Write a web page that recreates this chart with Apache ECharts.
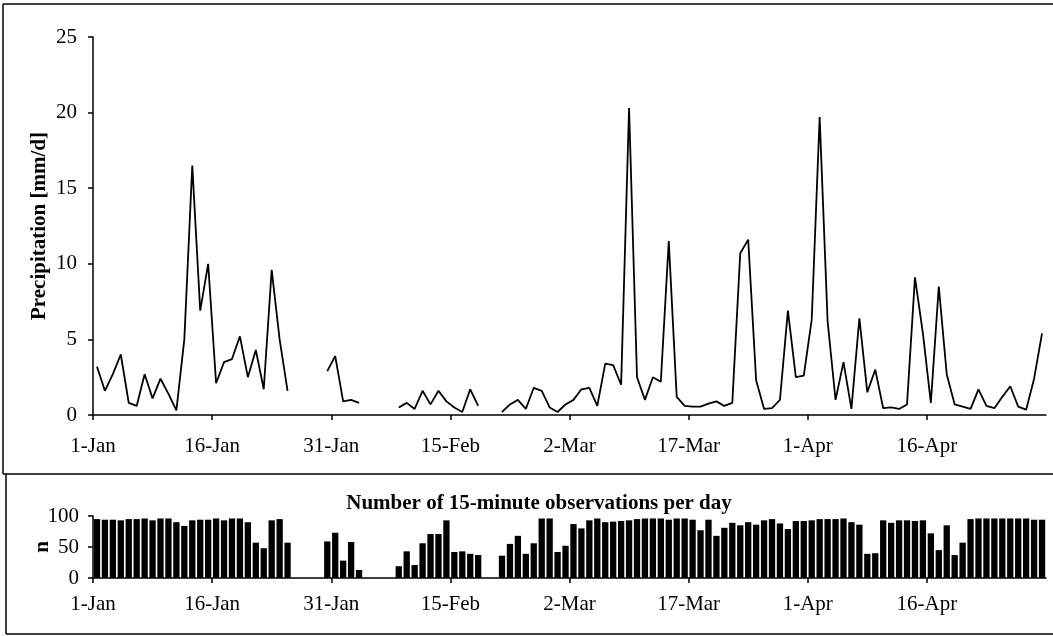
<!DOCTYPE html>
<html>
<head>
<meta charset="utf-8">
<script src="https://cdn.jsdelivr.net/npm/echarts@6/dist/echarts.min.js"></script>
<style>html,body{margin:0;padding:0;background:#fff}#c{width:1053px;height:636px}</style>
</head>
<body>
<div id="c"></div>
<script>
// Tick labels every 15 days (category boundaries), 120 daily categories 1-Jan .. 30-Apr
const tickLabels = ['1-Jan','16-Jan','31-Jan','15-Feb','2-Mar','17-Mar','1-Apr','16-Apr'];
const dayCount = 120;

// Daily precipitation [mm/d], null = missing
const precip = [
  3.2,1.6,2.7,4.0,0.8,0.6,2.7,1.1,2.4,1.4,
  0.3,5.0,16.5,6.9,10.0,2.1,3.5,3.7,5.2,2.5,
  4.3,1.7,9.6,5.0,1.6,null,null,null,null,2.9,
  3.9,0.9,1.0,0.8,null,null,null,null,0.5,0.8,
  0.4,1.6,0.7,1.6,0.9,0.5,0.2,1.7,0.6,null,
  null,0.2,0.7,1.0,0.4,1.8,1.6,0.5,0.2,0.7,
  1.0,1.7,1.8,0.6,3.4,3.3,2.0,20.3,2.5,1.0,
  2.5,2.2,11.5,1.2,0.6,0.55,0.55,0.75,0.9,0.6,
  0.8,10.7,11.6,2.3,0.4,0.45,1.0,6.9,2.5,2.6,
  6.3,19.7,6.2,1.0,3.5,0.4,6.4,1.5,3.0,0.45,
  0.5,0.4,0.7,9.1,5.4,0.8,8.5,2.7,0.7,0.55,
  0.4,1.7,0.6,0.45,1.2,1.9,0.55,0.35,2.4,5.4
];

// Number of 15-minute observations per day
const obsCount = [
  95,94,94,93,95,95,96,93,96,96,
  90,84,93,94,94,96,93,96,96,90,
  57,48,93,95,57,0,0,0,0,59,
  73,28,58,13,0,0,0,0,19,43,
  21,56,71,71,93,42,43,39,37,0,
  0,36,55,68,39,56,96,96,42,52,
  87,80,93,96,90,91,92,93,95,96,
  96,96,94,96,96,94,77,94,68,81,
  89,85,90,86,93,95,88,79,92,92,
  93,95,95,95,96,90,86,39,40,93,
  89,93,93,92,93,72,45,85,37,57,
  95,96,96,96,96,96,96,96,94,94
];

const FONT = '"Liberation Serif","Times New Roman",serif';
const lineData = precip.map((v, i) => [i + 0.5, v === null ? '-' : v]);
const barData = obsCount.map((v, i) => [i + 0.5, v]);

const xAxisCommon = {
  type: 'value', min: 0, max: dayCount, interval: 15,
  splitLine: { show: false },
  axisLine: { show: true, lineStyle: { color: '#000', width: 1.5 } },
  axisTick: { show: true, inside: false, length: 5, lineStyle: { color: '#000', width: 1.5 } },
  axisLabel: {
    color: '#000', fontFamily: FONT, fontSize: 21,
    showMaxLabel: false,
    formatter: v => tickLabels[Math.round(v / 15)] || ''
  }
};

const chart = echarts.init(document.getElementById('c'), null, { renderer: 'canvas' });
chart.setOption({
  animation: false,
  backgroundColor: '#fff',
  grid: [
    { left: 93, right: 7, top: 37, bottom: 221 },
    { left: 93, right: 7, top: 516, bottom: 58 }
  ],
  title: {
    text: 'Number of 15-minute observations per day',
    left: 534, top: 488, textAlign: 'center',
    textStyle: { fontFamily: FONT, fontSize: 21, fontWeight: 'bold', color: '#000' }
  },
  xAxis: [
    Object.assign({}, xAxisCommon, { gridIndex: 0,
      axisLabel: Object.assign({}, xAxisCommon.axisLabel, { margin: 21 }) }),
    Object.assign({}, xAxisCommon, { gridIndex: 1,
      axisLabel: Object.assign({}, xAxisCommon.axisLabel, { margin: 16 }) })
  ],
  yAxis: [
    {
      type: 'value', gridIndex: 0, min: 0, max: 25, interval: 5,
      name: 'Precipitation [mm/d]', nameLocation: 'middle', nameGap: 43, nameMoveOverlap: false,
      nameTextStyle: { fontFamily: FONT, fontSize: 21, fontWeight: 'bold', color: '#000' },
      splitLine: { show: false },
      axisLine: { show: true, lineStyle: { color: '#000', width: 1.5 } },
      axisTick: { show: true, inside: false, length: 5, lineStyle: { color: '#000', width: 1.5 } },
      axisLabel: { color: '#000', fontFamily: FONT, fontSize: 21, margin: 16 }
    },
    {
      type: 'value', gridIndex: 1, min: 0, max: 100, interval: 50,
      name: 'n', nameLocation: 'middle', nameGap: 40, nameMoveOverlap: false,
      nameTextStyle: { fontFamily: FONT, fontSize: 21, fontWeight: 'bold', color: '#000' },
      splitLine: { show: false },
      axisLine: { show: true, lineStyle: { color: '#000', width: 1.5 } },
      axisTick: { show: true, inside: false, length: 5, lineStyle: { color: '#000', width: 1.5 } },
      axisLabel: { color: '#000', fontFamily: FONT, fontSize: 21, margin: 14 }
    }
  ],
  series: [
    {
      type: 'line', xAxisIndex: 0, yAxisIndex: 0, data: lineData,
      showSymbol: false, connectNulls: false,
      lineStyle: { color: '#000', width: 1.8 }
    },
    {
      type: 'bar', xAxisIndex: 1, yAxisIndex: 1, data: barData,
      barWidth: 6.3,
      itemStyle: { color: '#000' }
    }
  ],
  graphic: [
    { type: 'line', shape: { x1: 3, y1: 4, x2: 1053, y2: 4 }, style: { stroke: '#000', lineWidth: 1.5 } },
    { type: 'line', shape: { x1: 3, y1: 4, x2: 3, y2: 474 }, style: { stroke: '#000', lineWidth: 1.5 } },
    { type: 'line', shape: { x1: 3, y1: 474, x2: 1053, y2: 474 }, style: { stroke: '#000', lineWidth: 1.5 } },
    { type: 'line', shape: { x1: 6, y1: 474, x2: 6, y2: 634 }, style: { stroke: '#000', lineWidth: 1.5 } },
    { type: 'line', shape: { x1: 6, y1: 634, x2: 1053, y2: 634 }, style: { stroke: '#000', lineWidth: 1.5 } }
  ]
});
</script>
</body>
</html>
